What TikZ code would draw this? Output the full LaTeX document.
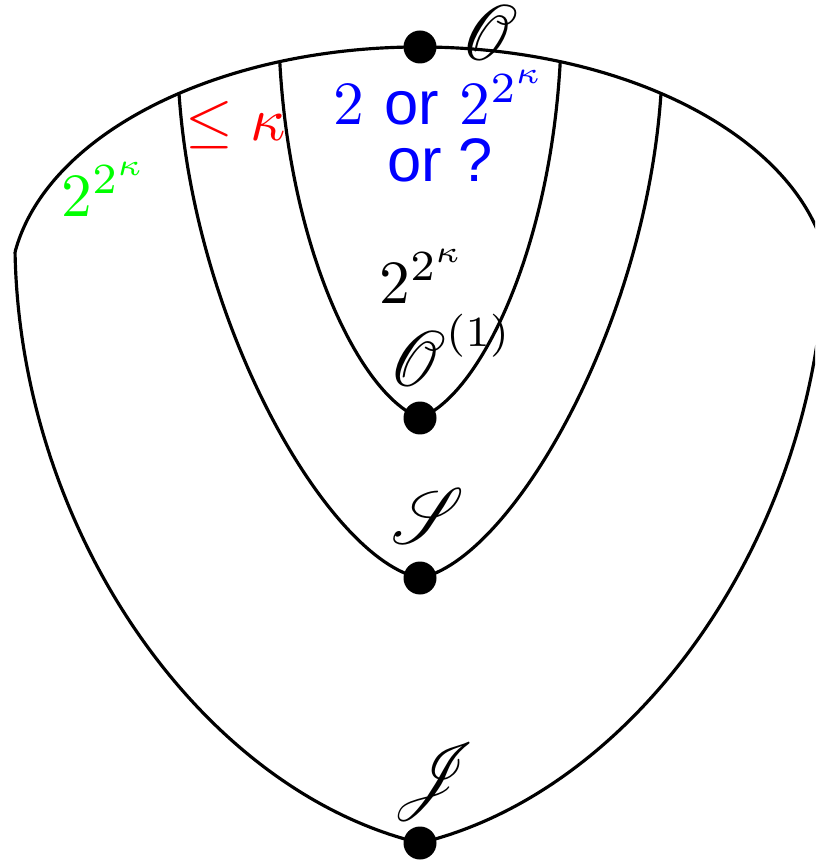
\documentclass[tikz,border=0pt]{standalone}
\usepackage{fontspec}
\usepackage{amsmath,amssymb}
\usepackage{mathrsfs}
\usepackage{graphicx}
\usepackage{tikz}
\usetikzlibrary{calc}
\newfontfamily\helv{Liberation Sans}
\newcommand\bigscr[1]{\scalebox{1.12}[1.28]{$\mathscr{#1}$}}

\begin{document}
\begin{tikzpicture}[
  x=0.02cm, y=-0.02cm,
  bnd/.style={line width=1.8pt},
  dot/.style={circle,fill=black,inner sep=0pt,minimum size=0.66cm},
  lbl/.style={scale=3.5,inner sep=0pt}
]
\useasboundingbox (0,0) rectangle (815,864);
\clip (0,0) rectangle (815,864);
\coordinate (ctr) at (420,290);
\coordinate (tl) at ($(ctr)+(189:410 and 243)$);
\coordinate (tr) at ($(ctr)+(351:410 and 243)$);
\coordinate (ml) at ($(ctr)+(234:410 and 243)$);
\coordinate (mr) at ($(ctr)+(306:410 and 243)$);
\coordinate (il) at ($(ctr)+(250:410 and 243)$);
\coordinate (ir) at ($(ctr)+(290:410 and 243)$);
\node[dot] (O) at ($(ctr)+(270:410 and 243)$) {};
\node[dot] (O1) at (420,418) {};
\node[dot] (S) at (420,578) {};
\node[dot] (J) at (420,843) {};
\draw[bnd] (tl) arc[start angle=189, end angle=351, x radius=410, y radius=243];
\draw[bnd] (tl) .. controls (20,530) and (200,790) .. (J.center) .. controls (640,790) and (820,530) .. (tr);
\draw[bnd] (ml) .. controls (195,330) and (330,560) .. (S.center) .. controls (510,560) and (645,330) .. (mr);
\draw[bnd] (il) .. controls (290,250) and (360,395) .. (O1.center) .. controls (480,395) and (550,250) .. (ir);
\node[lbl] (olab) at (490,33) {\bigscr{O}};
\node[lbl,text=blue,align=center] (blab) at (440,126) {$2$ {\helv or} $2^{2^\kappa}$\\[-2.8pt]{\helv or ?}};
\node[lbl,text=red] (rlab) at (236,125) {$\leq\kappa$};
\node[lbl,text=green] (glab) at (105,189) {$2^{2^\kappa}$};
\node[lbl] (klab) at (423,276) {$2^{2^\kappa}$};
\node[lbl] (o1lab) at (451,350) {$\bigscr{O}^{(1)}$};
\node[lbl] (slab) at (428,516) {\bigscr{S}};
\node[lbl] (jlab) at (434,782) {\bigscr{J}};
\end{tikzpicture}
\end{document}
